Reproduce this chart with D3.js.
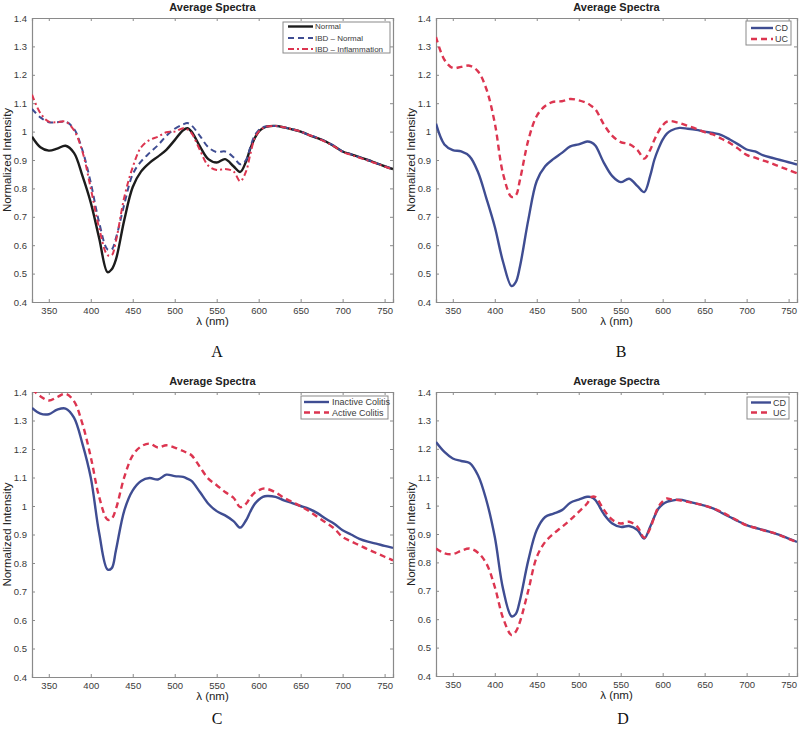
<!DOCTYPE html>
<html><head><meta charset="utf-8">
<script src="https://cdn.jsdelivr.net/npm/d3@7"></script>
<style>body{margin:0;background:#fff}svg{display:block}</style>
</head><body>
<svg id="chart" width="800" height="729"></svg>
<script>
// ---- data ----
const wavelengths = [330,340,350,360,370,380,390,400,410,420,425,430,440,450,460,470,480,490,500,510,515,520,530,540,550,560,570,578,585,590,595,600,605,610,620,630,640,650,660,670,680,690,700,710,720,730,740,750,760];
const xTicks = [350,400,450,500,550,600,650,700,750];
const yTicks = [0.4,0.5,0.6,0.7,0.8,0.9,1.0,1.1,1.2,1.3,1.4];
const yTickLabels = ["0.4","0.5","0.6","0.7","0.8","0.9","1","1.1","1.2","1.3","1.4"];

const aNormal = [0.982,0.945,0.933,0.94,0.95,0.925,0.845,0.75,0.625,0.505,0.515,0.55,0.69,0.805,0.86,0.89,0.912,0.936,0.97,1.005,1.012,1.0,0.948,0.903,0.891,0.903,0.878,0.858,0.895,0.94,0.975,1.0,1.012,1.018,1.02,1.015,1.008,1.0,0.988,0.977,0.965,0.948,0.93,0.92,0.91,0.9,0.889,0.878,0.868];
const aIbdNormal = [1.08,1.05,1.033,1.033,1.035,1.01,0.935,0.82,0.68,0.585,0.585,0.625,0.745,0.85,0.895,0.925,0.952,0.985,1.01,1.025,1.03,1.022,0.985,0.945,0.928,0.93,0.91,0.885,0.9,0.945,0.985,1.005,1.015,1.018,1.02,1.015,1.008,1.0,0.988,0.978,0.965,0.95,0.93,0.92,0.91,0.9,0.889,0.878,0.868];
const aIbdInflammation = [1.13,1.065,1.035,1.033,1.035,1.005,0.93,0.8,0.66,0.565,0.565,0.615,0.77,0.875,0.945,0.97,0.982,0.998,1.0,1.012,1.008,0.995,0.935,0.88,0.865,0.868,0.86,0.825,0.86,0.92,0.975,1.0,1.012,1.018,1.02,1.015,1.008,1.0,0.988,0.977,0.963,0.948,0.928,0.918,0.908,0.898,0.888,0.877,0.866];

const bCD = [1.028,0.955,0.935,0.93,0.913,0.858,0.765,0.665,0.54,0.456,0.47,0.525,0.69,0.826,0.878,0.904,0.925,0.948,0.955,0.965,0.962,0.95,0.89,0.843,0.822,0.834,0.808,0.787,0.843,0.9,0.94,0.972,0.993,1.004,1.013,1.01,1.006,1.0,0.995,0.988,0.972,0.955,0.937,0.93,0.916,0.908,0.9,0.892,0.884];
const bUC = [1.333,1.253,1.224,1.228,1.232,1.212,1.15,1.03,0.85,0.77,0.775,0.83,0.97,1.055,1.09,1.105,1.107,1.115,1.11,1.1,1.09,1.078,1.025,0.985,0.963,0.956,0.935,0.905,0.935,0.97,1.0,1.022,1.035,1.037,1.03,1.02,1.01,0.998,0.99,0.975,0.96,0.94,0.918,0.908,0.898,0.888,0.876,0.865,0.853];

const cInactive = [1.344,1.324,1.322,1.338,1.342,1.31,1.219,1.1,0.905,0.777,0.782,0.845,0.985,1.055,1.088,1.098,1.093,1.11,1.105,1.102,1.096,1.088,1.049,1.008,0.982,0.967,0.947,0.924,0.95,0.98,1.006,1.022,1.032,1.035,1.032,1.02,1.01,1.0,0.99,0.975,0.955,0.938,0.915,0.9,0.885,0.875,0.868,0.86,0.853];
const cActive = [1.41,1.385,1.37,1.382,1.394,1.368,1.289,1.172,1.032,0.952,0.956,0.99,1.102,1.178,1.209,1.219,1.205,1.213,1.205,1.193,1.186,1.178,1.137,1.096,1.073,1.049,1.029,0.996,1.008,1.03,1.046,1.055,1.061,1.06,1.048,1.029,1.014,0.999,0.982,0.962,0.942,0.921,0.891,0.876,0.862,0.848,0.835,0.822,0.809];

const dCD = [1.224,1.189,1.166,1.157,1.15,1.107,1.019,0.89,0.705,0.61,0.618,0.667,0.808,0.914,0.96,0.972,0.984,1.01,1.021,1.031,1.03,1.019,0.97,0.937,0.925,0.928,0.914,0.884,0.925,0.96,0.99,1.005,1.013,1.017,1.021,1.015,1.007,1.0,0.99,0.975,0.96,0.945,0.931,0.922,0.914,0.905,0.896,0.884,0.872];
const dUC = [0.849,0.832,0.829,0.841,0.849,0.834,0.796,0.714,0.603,0.544,0.556,0.591,0.702,0.819,0.872,0.901,0.925,0.95,0.978,1.007,1.03,1.03,0.985,0.95,0.937,0.943,0.925,0.887,0.919,0.96,0.996,1.015,1.025,1.022,1.019,1.013,1.007,1.0,0.99,0.978,0.962,0.946,0.93,0.922,0.913,0.906,0.895,0.883,0.872];

const panelLetters = ["A","B","C","D"];
const titleText = "Average Spectra";
const xLabelText = "λ (nm)";
const yLabelText = "Normalized Intensity";

// ---- styles ----
const BLUE = "#3f4d92", RED = "#dc3550", BLACK = "#1c1c1c";
const styles = {
  solidBlack: {color: BLACK, width: 2.4, dash: null},
  dashBlue: {color: BLUE, width: 2.0, dash: "6,4"},
  dashDotRed: {color: RED, width: 2.0, dash: "6,3,2,3"},
  solidBlue: {color: BLUE, width: 2.4, dash: null},
  dashRed: {color: RED, width: 2.4, dash: "6,4"}
};

const panels = [
  {letter: panelLetters[0], left: 32, right: 393, top: 18, bottom: 302, letterX: 217, letterY: 357,
   legend: {x: 283, y: 22, w: 107, h: 31, rowY: [4.5, 16, 27], lineX: [5, 30], textX: 32, fs: 8},
   series: [
     {name: "Normal", values: aNormal, style: styles.solidBlack},
     {name: "IBD – Normal", values: aIbdNormal, style: styles.dashBlue},
     {name: "IBD – Inflammation", values: aIbdInflammation, style: styles.dashDotRed}]},
  {letter: panelLetters[1], left: 436, right: 797, top: 18, bottom: 302, letterX: 621, letterY: 357,
   legend: {x: 746, y: 21, w: 45, h: 24, rowY: [7, 18], lineX: [5, 27], textX: 29, fs: 9},
   series: [
     {name: "CD", values: bCD, style: styles.solidBlue},
     {name: "UC", values: bUC, style: styles.dashRed}]},
  {letter: panelLetters[2], left: 32, right: 393, top: 392, bottom: 677, letterX: 217, letterY: 724,
   legend: {x: 301, y: 396, w: 87, h: 23, rowY: [6, 16.5], lineX: [3, 28], textX: 31, fs: 9},
   series: [
     {name: "Inactive Colitis", values: cInactive, style: styles.solidBlue},
     {name: "Active Colitis", values: cActive, style: styles.dashRed}]},
  {letter: panelLetters[3], left: 436, right: 797, top: 392, bottom: 676, letterX: 623, letterY: 724,
   legend: {x: 747, y: 397, w: 42, h: 22, rowY: [5.5, 15.5], lineX: [4, 24], textX: 26, fs: 9},
   series: [
     {name: "CD", values: dCD, style: styles.solidBlue},
     {name: "UC", values: dUC, style: styles.dashRed}]}
];

const svg = d3.select("#chart");
const AXIS = "#8a8a8a", TXT = "#3a3a3a";
const FONT = "'Liberation Sans', Arial, sans-serif";

panels.forEach((p, i) => {
  const x = d3.scaleLinear().domain([330, 760]).range([p.left, p.right]);
  const y = d3.scaleLinear().domain([0.4, 1.4]).range([p.bottom, p.top]);
  const g = svg.append("g");

  const clipId = "clip" + i;
  g.append("clipPath").attr("id", clipId).append("rect")
    .attr("x", p.left).attr("y", p.top).attr("width", p.right - p.left).attr("height", p.bottom - p.top);

  // axes (box with inward ticks)
  const bottomAxis = d3.axisBottom(x).tickValues(xTicks).tickSize(-3).tickPadding(5).tickFormat(d3.format("d"));
  const topAxis = d3.axisTop(x).tickValues(xTicks).tickSize(-3).tickFormat("");
  const leftAxis = d3.axisLeft(y).tickValues(yTicks).tickSize(-3).tickPadding(5).tickFormat((d, k) => yTickLabels[k]);
  const rightAxis = d3.axisRight(y).tickValues(yTicks).tickSize(-3).tickFormat("");

  const axes = [
    g.append("g").attr("transform", `translate(0,${p.bottom})`).call(bottomAxis),
    g.append("g").attr("transform", `translate(0,${p.top})`).call(topAxis),
    g.append("g").attr("transform", `translate(${p.left},0)`).call(leftAxis),
    g.append("g").attr("transform", `translate(${p.right},0)`).call(rightAxis)
  ];
  axes.forEach(a => {
    a.select(".domain").attr("stroke", AXIS).attr("stroke-width", 1.2);
    a.selectAll(".tick line").attr("stroke", AXIS);
    a.selectAll("text").attr("fill", TXT).style("font-family", FONT).style("font-size", "9.5px");
  });

  // lines
  const line = d3.line().x((d, k) => x(wavelengths[k])).y(d => y(d)).curve(d3.curveCatmullRom.alpha(0.5));
  const lg = g.append("g").attr("clip-path", `url(#${clipId})`);
  p.series.forEach(s => {
    lg.append("path").datum(s.values)
      .attr("d", line).attr("fill", "none")
      .attr("stroke", s.style.color).attr("stroke-width", s.style.width)
      .attr("stroke-dasharray", s.style.dash)
      .attr("stroke-linejoin", "round");
  });

  // title
  const cx = (p.left + p.right) / 2;
  g.append("text").attr("x", cx).attr("y", p.top - 7).attr("text-anchor", "middle")
    .style("font-family", FONT).style("font-size", "11px").style("font-weight", "bold")
    .attr("fill", "#222").text(titleText);
  // x label
  g.append("text").attr("x", cx).attr("y", p.bottom + 23).attr("text-anchor", "middle")
    .style("font-family", FONT).style("font-size", "11.5px").attr("fill", "#222").text(xLabelText);
  // y label
  g.append("text").attr("transform", `translate(${p.left - 21},${(p.top + p.bottom) / 2}) rotate(-90)`)
    .attr("text-anchor", "middle").style("font-family", FONT).style("font-size", "11.5px")
    .attr("fill", "#222").text(yLabelText);
  // panel letter
  g.append("text").attr("x", p.letterX).attr("y", p.letterY).attr("text-anchor", "middle")
    .style("font-family", "'Liberation Serif', 'Times New Roman', serif").style("font-size", "16px")
    .attr("fill", "#111").text(p.letter);

  // legend
  const L = p.legend;
  const leg = g.append("g").attr("transform", `translate(${L.x},${L.y})`);
  leg.append("rect").attr("width", L.w).attr("height", L.h).attr("fill", "#fff")
    .attr("stroke", AXIS).attr("stroke-width", 1);
  p.series.forEach((s, k) => {
    leg.append("line").attr("x1", L.lineX[0]).attr("x2", L.lineX[1])
      .attr("y1", L.rowY[k]).attr("y2", L.rowY[k])
      .attr("stroke", s.style.color).attr("stroke-width", s.style.width)
      .attr("stroke-dasharray", s.style.dash);
    leg.append("text").attr("x", L.textX).attr("y", L.rowY[k]).attr("dy", "0.35em")
      .style("font-family", FONT).style("font-size", L.fs + "px").attr("fill", TXT).text(s.name);
  });
});
</script>
</body></html>
